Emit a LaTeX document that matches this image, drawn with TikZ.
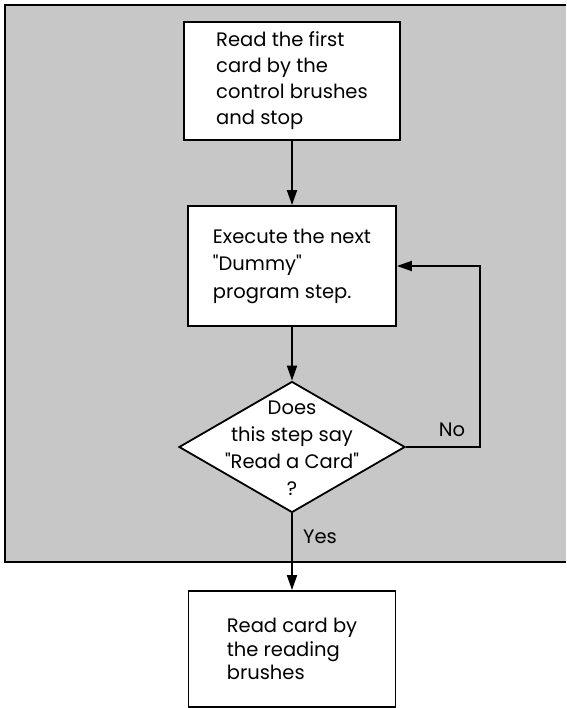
\documentclass[tikz,border=0pt]{standalone}
\usepackage{fontspec}
\setmainfont{Poppins}
\usetikzlibrary{shapes.geometric,arrows.meta}
\begin{document}
\begin{tikzpicture}[x=1pt, y=-1pt,
    boxStyle/.style={rectangle, draw, line width=1.8pt, fill=white, align=left, font=\fontsize{19.5}{26}\selectfont},
    decStyle/.style={diamond, draw, line width=1.8pt, fill=white, minimum width=226pt, minimum height=131pt, inner sep=0pt},
    textStyle/.style={font=\fontsize{19.5}{27}\selectfont, align=center},
    arrowStyle/.style={line width=1.8pt, -{Triangle[length=15pt,width=10pt]}}]
    \useasboundingbox (0,0) rectangle (566,708);
    \fill[black!22] (5,5) rectangle (566,562);
    \draw[line width=1.2pt] (566,5) -- (5,5) -- (5,562) -- (566,562);

    \node[boxStyle, minimum width=216pt, minimum height=118pt](read) at (292,81) {Read the first\\card by the\\control brushes\\and stop};
    \node[boxStyle, minimum width=208pt, minimum height=120pt, font=\fontsize{19.5}{27.5}\selectfont](exec) at (292,266) {Execute the next\\\textquotedbl Dummy\textquotedbl\\program step.};
    \node[decStyle](test) at (292,447) {};
    \node[textStyle](testText) at (292,448) {Does\\this step say\\\textquotedbl Read a Card\textquotedbl\\?};
    \node[boxStyle, minimum width=207pt, minimum height=116pt, font=\fontsize{19.5}{23.5}\selectfont](final) at (292,649) {Read card by\\the reading\\brushes};
    \coordinate (loop) at (480,447);
    \node[textStyle](no) at (452,430) {No};
    \node[textStyle](yes) at (320,537) {Yes};

    \draw[arrowStyle] (read.south) -- (exec.north);
    \draw[arrowStyle] (exec.south) -- (test.north);
    \draw[arrowStyle] (test.east) -- (loop) |- (exec.east);
    \draw[arrowStyle] (test.south) -- (final.north);
\end{tikzpicture}
\end{document}
